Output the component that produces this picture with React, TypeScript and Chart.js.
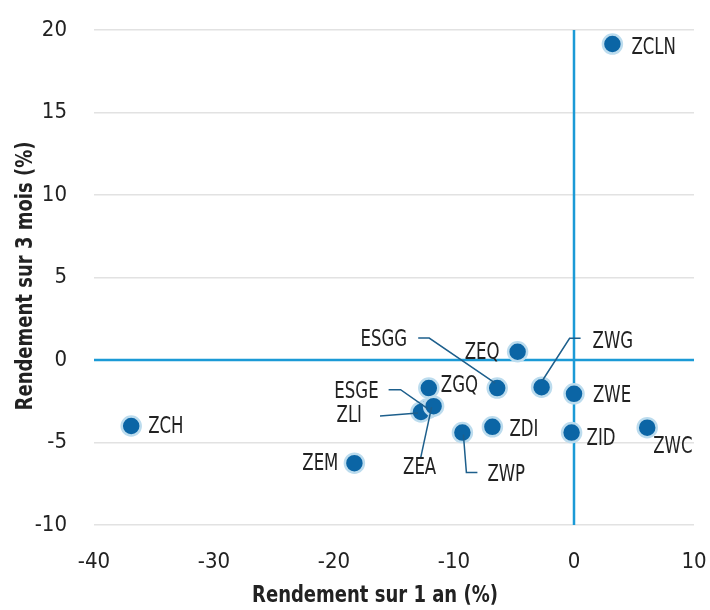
import React, { useEffect, useRef } from "react";
import { Chart, registerables } from "chart.js";

Chart.register(...registerables);

// ---- data ----
const names = ["ESGE", "ZCLN", "ZCH", "ZEM", "ZEQ", "ESGG", "ZWG", "ZWE", "ZID", "ZWC", "ZDI", "ZWP", "ZGQ", "ZLI", "ZEA"];
const oneYear = [-12.2, 3.2, -36.9, -18.3, -4.7, -6.4, -2.7, 0.0, -0.2, 6.1, -6.8, -9.3, -12.1, -12.75, -11.7];
const threeMonth = [-2.95, 19.15, -4.0, -6.25, 0.5, -1.7, -1.65, -2.05, -4.4, -4.1, -4.05, -4.4, -1.7, -3.15, -2.8];
const xTickValues = [-40, -30, -20, -10, 0, 10];
const yTickValues = [-10, -5, 0, 5, 10, 15, 20];
const xTitle = "Rendement sur 1 an (%)";
const yTitle = "Rendement sur 3 mois (%)";

// ---- label placement (pixel offsets from each point) ----
type Lbl = { dx: number; dy: number; align: CanvasTextAlign; leader?: [number, number][] };
const labelLayout: Record<string, Lbl> = {
  ZCLN: { dx: 19, dy: 4, align: "left" },
  ZCH: { dx: 17, dy: 1, align: "left" },
  ZEM: { dx: -16, dy: 1, align: "right" },
  ZEQ: { dx: -18, dy: 1, align: "right" },
  ESGG: { dx: -90, dy: -48, align: "right", leader: [[-79, -50], [-68, -50], [-2, -5]] },
  ZWG: { dx: 51, dy: -45, align: "left", leader: [[39, -49], [28, -49], [1, -7]] },
  ZWE: { dx: 19, dy: 2, align: "left" },
  ZID: { dx: 15, dy: 6, align: "left" },
  ZWC: { dx: 6, dy: 19, align: "left" },
  ZDI: { dx: 17, dy: 3, align: "left" },
  ZWP: { dx: 25, dy: 42, align: "left", leader: [[1, 2], [4, 40], [15, 40]] },
  ZGQ: { dx: 12, dy: -2, align: "left" },
  ESGE: { dx: -49, dy: -17, align: "right", leader: [[-39, -19], [-27, -19], [0, 0]] },
  ZLI: { dx: -59, dy: 4, align: "right", leader: [[-41, 4], [-3, 1]] },
  ZEA: { dx: -14, dy: 62, align: "center", leader: [[-13, 52], [-2, 1]] },
};

const FONT = "'Liberation Sans Narrow', 'DejaVu Sans Condensed', 'Liberation Sans', Arial, sans-serif";
const STRETCH = "condensed";
const TEXT = "#222222";
const AXIS_BLUE = "#1b9ad6";
const POINT_BLUE = "#0b65a5";
const HALO = "#bcdcee";
const LEADER = "#1d5f8c";

const overlayPlugin = {
  id: "overlay",
  beforeDatasetsDraw(chart: any) {
    const { ctx, chartArea, scales } = chart;
    const x0 = scales.x.getPixelForValue(0);
    const y0 = scales.y.getPixelForValue(0);
    ctx.save();
    ctx.strokeStyle = AXIS_BLUE;
    ctx.lineWidth = 2.5;
    ctx.beginPath();
    ctx.moveTo(chartArea.left, y0);
    ctx.lineTo(chartArea.right, y0);
    ctx.moveTo(x0, chartArea.top);
    ctx.lineTo(x0, chartArea.bottom);
    ctx.stroke();
    ctx.restore();
  },
  afterDatasetsDraw(chart: any) {
    const { ctx, scales } = chart;
    ctx.save();
    ctx.font = `${STRETCH} 23px ${FONT}`;
    ctx.textBaseline = "middle";
    ctx.fillStyle = TEXT;
    names.forEach((n, i) => {
      const px = scales.x.getPixelForValue(oneYear[i]);
      const py = scales.y.getPixelForValue(threeMonth[i]);
      const l = labelLayout[n];
      if (!l) return;
      if (l.leader) {
        ctx.strokeStyle = LEADER;
        ctx.lineWidth = 1.5;
        ctx.beginPath();
        l.leader.forEach(([a, b], k) => {
          if (k === 0) ctx.moveTo(px + a, py + b);
          else ctx.lineTo(px + a, py + b);
        });
        ctx.stroke();
      }
      ctx.save();
      ctx.translate(px + l.dx, py + l.dy);
      ctx.scale(0.8, 1);
      ctx.textAlign = l.align;
      ctx.fillText(n, 0, 0);
      ctx.restore();
    });
    ctx.restore();
  },
  afterDraw(chart: any) {
    const { ctx } = chart;
    ctx.save();
    ctx.fillStyle = TEXT;
    ctx.font = `${STRETCH} bold 23px ${FONT}`;
    ctx.textAlign = "center";
    ctx.textBaseline = "middle";
    ctx.save();
    ctx.translate(375, 596);
    ctx.scale(0.87, 1);
    ctx.fillText(xTitle, 0, 0);
    ctx.restore();
    ctx.translate(26, 276);
    ctx.rotate(-Math.PI / 2);
    ctx.scale(0.87, 1);
    ctx.fillText(yTitle, 0, 0);
    ctx.restore();
  },
};

export default function App() {
  const ref = useRef<HTMLCanvasElement | null>(null);
  useEffect(() => {
    if (!ref.current) return;
    const chart = new Chart(ref.current, {
      type: "scatter",
      data: {
        datasets: [
          {
            data: names.map((_, i) => ({ x: oneYear[i], y: threeMonth[i] })),
            backgroundColor: POINT_BLUE,
            borderColor: HALO,
            borderWidth: 2.5,
            pointRadius: 9.5,
            pointHoverRadius: 9.5,
          },
        ],
      },
      options: {
        animation: false,
        responsive: false,
        events: [],
        layout: { padding: { left: 0, top: 30, right: 16, bottom: 0 } },
        plugins: { legend: { display: false }, tooltip: { enabled: false }, title: { display: false } },
        scales: {
          x: {
            type: "linear",
            min: -40,
            max: 10,
            afterBuildTicks: (s: any) => {
              s.ticks = xTickValues.map((v) => ({ value: v }));
            },
            afterFit: (s: any) => {
              s.height = 85;
              s.paddingLeft = 0;
              s.paddingRight = 0;
            },
            grid: { display: false, drawTicks: false },
            border: { display: false },
            ticks: { padding: 24, color: TEXT, font: { family: FONT, size: 22, style: STRETCH as any } },
          },
          y: {
            type: "linear",
            min: -10,
            max: 20,
            afterBuildTicks: (s: any) => {
              s.ticks = yTickValues.map((v) => ({ value: v }));
            },
            afterFit: (s: any) => {
              s.width = 94;
              s.paddingTop = 0;
              s.paddingBottom = 0;
            },
            grid: { color: "#e2e2e2", lineWidth: 1.5, drawTicks: false },
            border: { display: false },
            ticks: { padding: 27, color: TEXT, font: { family: FONT, size: 22, style: STRETCH as any } },
          },
        },
      },
      plugins: [overlayPlugin],
    });
    return () => chart.destroy();
  }, []);
  return (
    <div style={{ position: "fixed", left: 0, top: 0, width: 710, height: 610, background: "#fff" }}>
      <canvas ref={ref} width={710} height={610} style={{ width: 710, height: 610, display: "block" }} />
    </div>
  );
}
